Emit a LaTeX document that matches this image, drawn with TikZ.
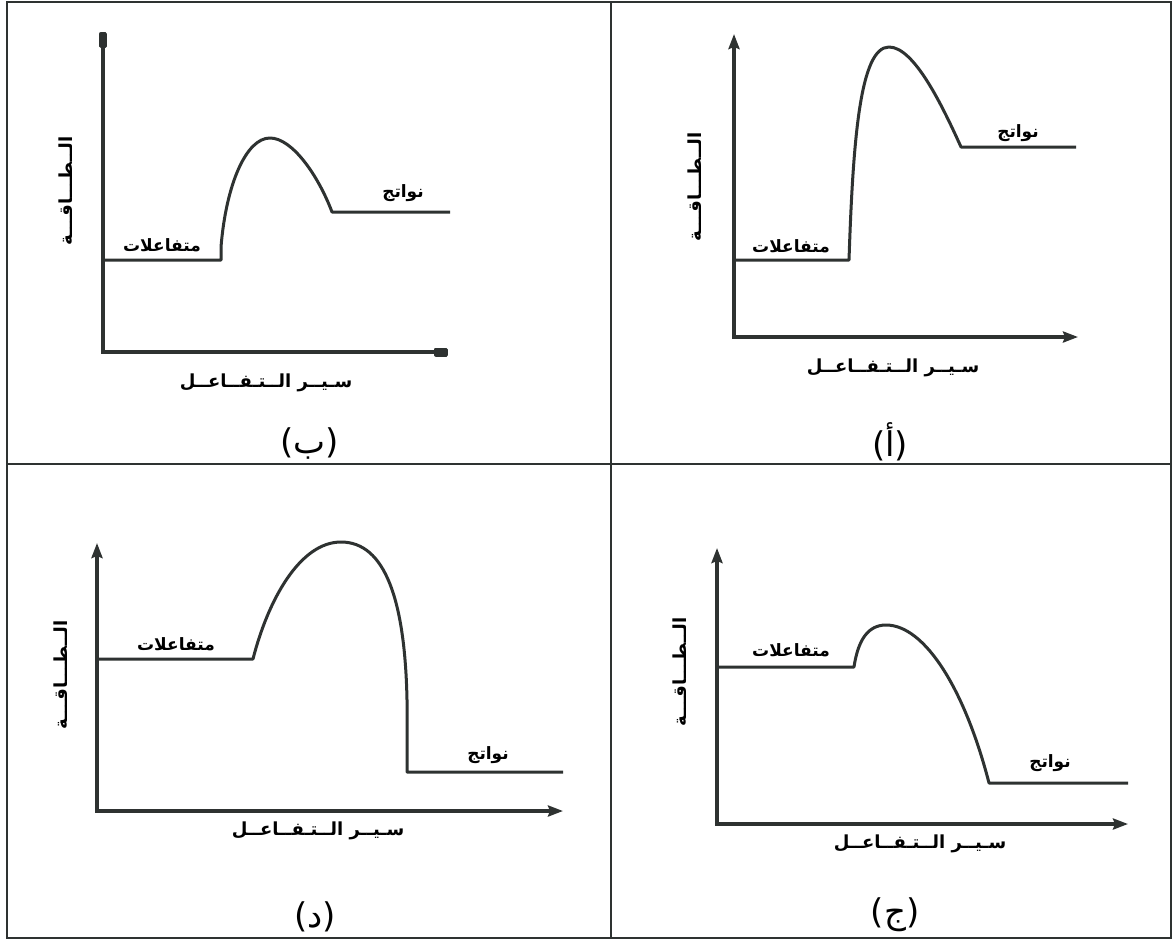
\documentclass[tikz,border=0pt]{standalone}
\usepackage{fontspec}
\newfontfamily\arabicfont[Script=Arabic]{DejaVu Sans}
\TeXXeTstate=1
\usetikzlibrary{arrows.meta}
\definecolor{ink}{HTML}{2E3231}
\tikzset{
  axis/.style={line width=3.5pt, draw=ink, line join=miter,
    {Stealth[length=15pt,width=11pt,inset=2pt]}-{Stealth[length=15pt,width=11pt,inset=2pt]}},
  axisb/.style={line width=3.5pt, draw=ink, line join=miter,
    {Rectangle[length=16pt,width=8pt,round]}-{Rectangle[length=14pt,width=9pt,round]}},
  curve/.style={line width=3pt, draw=ink, line join=round},
  lvl/.style={font=\arabicfont\bfseries\fontsize{17}{19}\selectfont, inner sep=0pt},
  xlab/.style={font=\arabicfont\bfseries\fontsize{18}{20}\selectfont, inner sep=0pt},
  ylab/.style={font=\arabicfont\bfseries\fontsize{18}{20}\selectfont, inner sep=0pt, rotate=90},
  plab/.style={font=\arabicfont\fontsize{34}{38}\selectfont, inner sep=0pt},
  frame/.style={line width=1.2pt, draw=ink}
}
\begin{document}
\begin{tikzpicture}[x=1pt,y=-1pt]
\useasboundingbox (0,0) rectangle (1174,940);
\fill[white] (0,0) rectangle (1174,940);
% frame and dividers
\draw[frame] (7,2) rectangle (1171,938);
\draw[frame] (611,2) -- (611,938);
\draw[frame] (7,464) -- (1171,464);

% ---------- Panel b (top-left)
\coordinate (bT) at (103,32);
\coordinate (bO) at (103,352);
\coordinate (bR) at (448,352);
\draw[axisb] (bT) -- (bO) -- (bR);
\draw[curve] (103,260) -- (221,260) -- (221,247)
  .. controls (226,185) and (246,138) .. (270,138)
  .. controls (292,138) and (318,175) .. (332,212) -- (450,212);
\node[lvl] (b_r) at (162,245) {\beginR متفاعلات\endR};
\node[lvl] (b_p) at (403,193) {\beginR نواتج\endR};
\node[ylab] (b_y) at (66,191) {\beginR الــطـــاقـــة\endR};
\node[xlab] (b_x) at (266,383) {\beginR سـيــر الــتـفــاعــل\endR};
\node[plab] (b_l) at (310,443) {(ب)};

% ---------- Panel a (top-right)
\coordinate (aT) at (734,34);
\coordinate (aO) at (734,337);
\coordinate (aR) at (1078,337);
\draw[axis] (aT) -- (aO) -- (aR);
\draw[curve] (734,260) -- (849,260)
  .. controls (853,140) and (860,47) .. (889,47)
  .. controls (914,47) and (942,105) .. (961,147) -- (1076,147);
\node[lvl] (a_r) at (791,246) {\beginR متفاعلات\endR};
\node[lvl] (a_p) at (1018,133) {\beginR نواتج\endR};
\node[ylab] (a_y) at (695,187) {\beginR الــطـــاقـــة\endR};
\node[xlab] (a_x) at (893,368) {\beginR سـيــر الــتـفــاعــل\endR};
\node[plab] (a_l) at (890,442) {(أ)};

% ---------- Panel d (bottom-left)
\coordinate (dT) at (97,543);
\coordinate (dO) at (97,811);
\coordinate (dR) at (563,811);
\draw[axis] (dT) -- (dO) -- (dR);
\draw[curve] (97,659) -- (253,659)
  .. controls (268,600) and (300,542) .. (341,542)
  .. controls (385,542) and (405,600) .. (407,700) -- (407,772) -- (563,772);
\node[lvl] (d_r) at (176,644) {\beginR متفاعلات\endR};
\node[lvl] (d_p) at (488,755) {\beginR نواتج\endR};
\node[ylab] (d_y) at (61,675) {\beginR الــطـــاقـــة\endR};
\node[xlab] (d_x) at (318,831) {\beginR سـيــر الــتـفــاعــل\endR};
\node[plab] (d_l) at (315,917) {(د)};

% ---------- Panel j (bottom-right)
\coordinate (jT) at (717,548);
\coordinate (jO) at (717,824);
\coordinate (jR) at (1128,824);
\draw[axis] (jT) -- (jO) -- (jR);
\draw[curve] (717,667) -- (854,667)
  .. controls (858,640) and (868,625) .. (886,625)
  .. controls (925,625) and (965,690) .. (989,783) -- (1128,783);
\node[lvl] (j_r) at (791,650) {\beginR متفاعلات\endR};
\node[lvl] (j_p) at (1050,763) {\beginR نواتج\endR};
\node[ylab] (j_y) at (680,672) {\beginR الــطـــاقـــة\endR};
\node[xlab] (j_x) at (920,844) {\beginR سـيــر الــتـفــاعــل\endR};
\node[plab] (j_l) at (895,915) {(ج)};
\end{tikzpicture}
\end{document}
